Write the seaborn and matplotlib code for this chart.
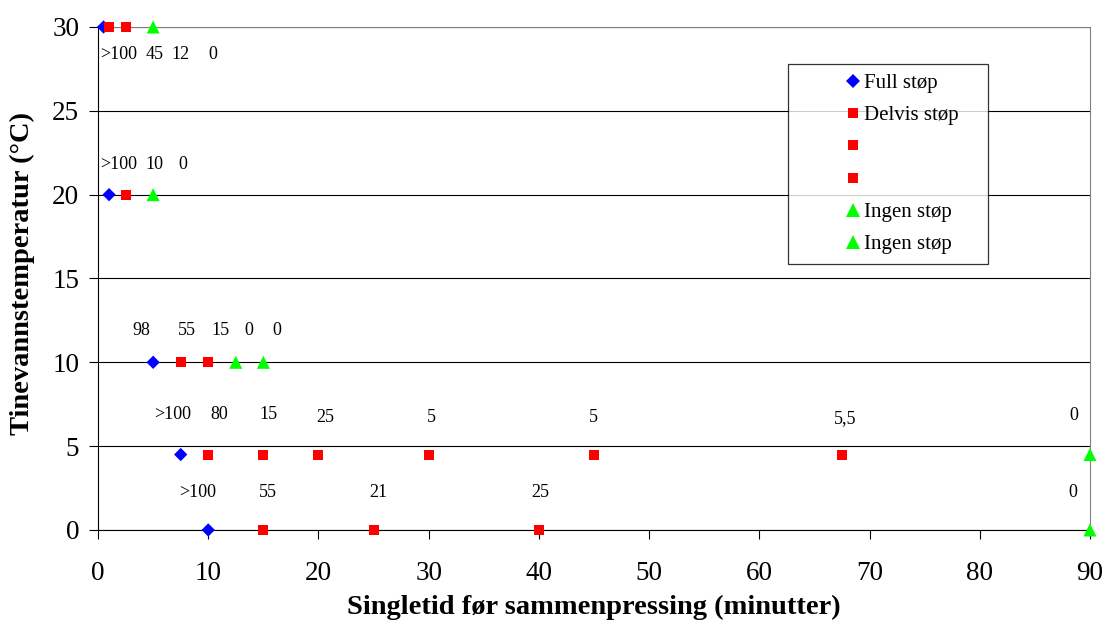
import numpy as np
import pandas as pd
import matplotlib
matplotlib.use("Agg")
import matplotlib.pyplot as plt
from matplotlib.lines import Line2D
import seaborn as sns

# series (x = singletid i minutter, y = tinevannstemperatur)
full_x = [0.5, 1, 5, 7.5, 10]
full_y = [30, 20, 10, 4.5, 0]

delvis1_x = [1, 2.5, 2.5, 7.5, 10]
delvis1_y = [30, 30, 20, 10, 10]
delvis2_x = [10, 15, 20, 30, 45, 67.5]
delvis2_y = [4.5, 4.5, 4.5, 4.5, 4.5, 4.5]
delvis3_x = [15, 25, 40]
delvis3_y = [0, 0, 0]

ingen1_x = [5, 5, 12.5, 15]
ingen1_y = [30, 20, 10, 10]
ingen2_x = [90, 90]
ingen2_y = [4.5, 0]

series_names = ["Full støp", "Delvis støp", " ", " ", "Ingen støp", "Ingen støp"]

# data labels as they sit in the chart
label_text = [">100", "45", "12", "0",
              ">100", "10", "0",
              "98", "55", "15", "0", "0",
              ">100", "80", "15", "25", "5", "5", "5,5", "0",
              ">100", "55", "21", "25", "0"]
label_x = [1.9, 5.1, 7.45, 10.4,
           1.9, 5.15, 7.7,
           3.95, 8.05, 11.1, 13.65, 16.2,
           6.8, 11.0, 15.5, 20.65, 30.25, 44.95, 67.75, 88.55,
           9.05, 15.4, 25.4, 40.1, 88.4]
label_y = [28.33, 28.33, 28.33, 28.33,
           21.77, 21.77, 21.77,
           11.87, 11.87, 11.87, 11.87, 11.87,
           6.86, 6.86, 6.86, 6.68, 6.68, 6.68, 6.62, 6.8,
           2.22, 2.22, 2.22, 2.22, 2.22]

plt.rcParams["font.family"] = ["Liberation Serif", "DejaVu Serif"]

BLUE, RED, GREEN = "#0000ff", "#ff0000", "#00ff00"

fig, ax = plt.subplots(figsize=(11.04, 6.35), dpi=100)
fig.subplots_adjust(left=0.0888, right=0.9873, top=0.9575, bottom=0.1654)

styles = [
    (full_x, full_y, BLUE, "D", 46),
    (delvis1_x, delvis1_y, RED, "s", 52),
    (delvis2_x, delvis2_y, RED, "s", 52),
    (delvis3_x, delvis3_y, RED, "s", 52),
    (ingen1_x, ingen1_y, GREEN, "^", 88),
    (ingen2_x, ingen2_y, GREEN, "^", 88),
]
for xs, ys, col, mk, size in styles:
    df = pd.DataFrame({"x": xs, "y": ys})
    sns.scatterplot(data=df, x="x", y="y", color=col, marker=mk, s=size,
                    edgecolor="none", linewidth=0, clip_on=False, zorder=3,
                    legend=False, ax=ax)

for t, lx, ly in zip(label_text, label_x, label_y):
    ax.text(lx, ly, t, ha="center", va="center", fontsize=13, color="black")

ax.set_xlim(0, 90)
ax.set_ylim(0, 30)
ax.set_xticks(np.arange(0, 91, 10))
ax.set_yticks(np.arange(0, 31, 5))
ax.yaxis.grid(True, color="black", linewidth=0.8)
ax.set_axisbelow(True)

for side in ["top", "right"]:
    ax.spines[side].set_color("#808080")
    ax.spines[side].set_linewidth(0.8)
for side in ["left", "bottom"]:
    ax.spines[side].set_color("black")
    ax.spines[side].set_linewidth(0.8)

ax.tick_params(axis="both", direction="out", length=6.5, width=0.8,
               labelsize=19.5, color="black")
ax.tick_params(axis="x", pad=15.5)
ax.tick_params(axis="y", pad=7)

ax.set_xlabel("Singletid før sammenpressing (minutter)", fontsize=20.5,
              fontweight="bold", va="center")
ax.set_ylabel("Tinevannstemperatur (°C)", fontsize=20.5, fontweight="bold",
              va="center")
ax.xaxis.set_label_coords(0.5, -0.153)
ax.yaxis.set_label_coords(-0.0766, 0.51)

handles = []
for xs, ys, col, mk, size in styles:
    handles.append(Line2D([], [], linestyle="none", marker=mk, color=col,
                          markersize=np.sqrt(size), markeredgewidth=0))
leg = ax.legend(handles, series_names, loc="upper left",
                bbox_to_anchor=(0.6956, 0.4, 0.2016, 0.5264), mode="expand",
                borderaxespad=0, fontsize=15, frameon=True, fancybox=False,
                borderpad=0.45, handlelength=5.3, handletextpad=-2.08,
                labelspacing=0.61)
leg.get_frame().set_edgecolor("black")
leg.get_frame().set_linewidth(0.9)

fig.savefig("out.png", dpi=100)
